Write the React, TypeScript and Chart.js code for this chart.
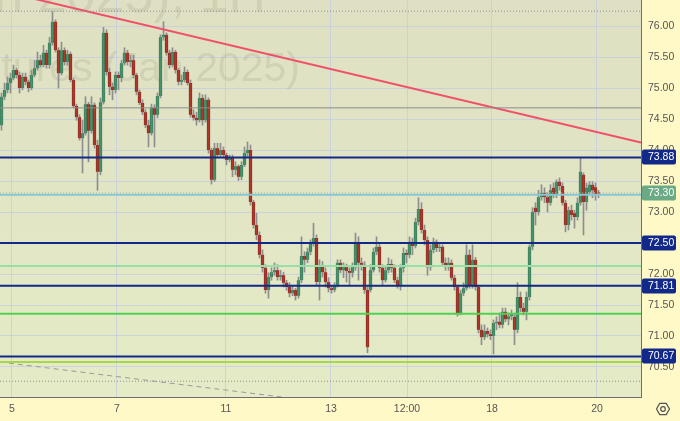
import React, { useEffect, useRef } from "react";
import { Chart, registerables } from "chart.js";

Chart.register(...registerables);

// ---- Candle data (hourly) ----
const opens = [
  74.40, 74.86, 74.97, 75.08, 75.16, 75.29, 75.21, 75.00, 75.18, 75.10,
  75.00, 75.21, 75.32, 75.45, 75.37, 75.57, 75.37, 75.73, 76.07, 75.61,
  75.24, 75.61, 75.42, 75.55, 75.13, 74.71, 74.53, 74.19, 74.27, 74.74,
  74.31, 74.73, 74.08, 73.65, 74.77, 75.89, 75.26, 75.02, 74.97, 75.21,
  75.16, 75.40, 75.57, 75.42, 75.45, 75.21, 74.94, 74.76, 74.61, 74.40,
  74.27, 74.68, 74.57, 74.87, 75.82, 75.86, 75.57, 75.37, 75.58, 75.29,
  75.10, 75.13, 75.26, 75.08, 74.57, 74.52, 74.48, 74.84, 74.48, 74.81,
  74.00, 73.52, 74.03, 73.92, 74.00, 73.92, 73.84, 73.87, 73.68, 73.74,
  73.57, 73.76, 73.95, 74.00, 73.16, 72.79, 72.63, 72.31, 72.10, 71.74,
  71.95, 72.03, 72.06, 71.95, 71.98, 71.86, 71.79, 71.69, 71.74, 71.65,
  71.90, 72.29, 72.23, 72.36, 72.49, 72.58, 71.87, 72.13, 72.03, 71.87,
  71.77, 71.74, 71.82, 72.18, 72.06, 72.11, 72.05, 72.02, 72.11, 72.50,
  72.18, 72.15, 71.74, 71.74, 72.06, 72.36, 72.44, 72.10, 71.90, 72.06,
  72.16, 72.10, 71.90, 71.82, 72.10, 72.34, 72.31, 72.52, 72.45, 72.84,
  73.05, 72.71, 72.55, 72.11, 72.39, 72.52, 72.42, 72.44, 72.18, 72.13,
  72.18, 71.94, 71.79, 71.37, 71.69, 71.77, 72.31, 71.82, 72.23, 71.79,
  71.10, 70.98, 71.08, 71.03, 71.00, 71.21, 71.23, 71.18, 71.39, 71.27,
  71.32, 71.31, 71.10, 71.63, 71.45, 71.39, 71.63, 72.44, 73.07, 73.00,
  73.24, 73.31, 73.24, 73.15, 73.39, 73.27, 73.49, 73.42, 73.15, 72.79,
  73.03, 72.98, 72.92, 73.15, 73.60, 73.16, 73.32, 73.44, 73.40, 73.31,
];
const highs = [
  74.92, 75.08, 75.18, 75.24, 75.37, 75.32, 75.26, 75.24, 75.24, 75.13,
  75.29, 75.45, 75.58, 75.53, 75.69, 75.61, 75.82, 76.23, 76.10, 75.65,
  75.74, 75.65, 75.61, 75.58, 75.16, 74.74, 74.57, 74.48, 74.86, 74.77,
  74.86, 74.76, 74.16, 74.84, 75.98, 75.94, 75.32, 75.08, 75.26, 75.26,
  75.45, 75.65, 75.61, 75.53, 75.53, 75.24, 74.97, 74.81, 74.65, 74.48,
  74.74, 74.73, 74.92, 75.86, 76.07, 75.89, 75.61, 75.65, 75.61, 75.32,
  75.21, 75.34, 75.29, 75.13, 74.65, 74.61, 74.92, 74.89, 74.89, 74.84,
  74.03, 74.11, 74.11, 74.11, 74.05, 73.95, 73.92, 73.92, 73.81, 73.76,
  73.81, 74.05, 74.13, 74.08, 73.19, 72.98, 72.68, 72.39, 72.15, 72.02,
  72.10, 72.18, 72.15, 72.06, 72.03, 71.90, 71.86, 71.82, 71.77, 71.95,
  72.60, 72.36, 72.42, 72.55, 72.82, 72.63, 72.23, 72.20, 72.10, 71.94,
  71.82, 71.86, 72.23, 72.23, 72.18, 72.16, 72.10, 72.18, 72.66, 72.60,
  72.26, 72.20, 71.79, 72.15, 72.42, 72.60, 72.50, 72.15, 72.11, 72.26,
  72.23, 72.15, 71.95, 72.15, 72.42, 72.39, 72.60, 72.58, 72.90, 73.23,
  73.15, 72.79, 72.60, 72.47, 72.58, 72.55, 72.50, 72.47, 72.26, 72.26,
  72.23, 71.98, 71.82, 71.74, 71.86, 72.47, 72.39, 72.47, 72.27, 71.82,
  71.18, 71.18, 71.13, 71.10, 71.26, 71.31, 71.37, 71.45, 71.45, 71.37,
  71.42, 71.37, 71.86, 71.71, 71.53, 71.71, 72.47, 73.07, 73.15, 73.35,
  73.44, 73.39, 73.31, 73.44, 73.47, 73.52, 73.55, 73.47, 73.19, 73.08,
  73.11, 73.03, 73.23, 73.87, 73.63, 73.47, 73.49, 73.49, 73.47, 73.35,
];
const lows = [
  74.32, 74.81, 74.92, 74.92, 75.13, 75.16, 74.92, 74.97, 75.05, 74.94,
  74.97, 75.18, 75.29, 75.34, 75.34, 75.32, 75.32, 75.69, 75.58, 75.00,
  75.21, 75.37, 75.37, 75.10, 74.68, 74.48, 74.16, 73.63, 74.24, 73.81,
  74.27, 74.03, 73.35, 73.60, 74.74, 75.21, 74.89, 74.81, 74.92, 74.97,
  75.10, 75.37, 75.37, 75.34, 75.16, 74.89, 74.73, 74.57, 74.36, 74.05,
  74.24, 74.05, 74.52, 74.84, 75.77, 75.53, 75.32, 75.34, 75.24, 75.05,
  75.05, 75.10, 75.05, 74.53, 74.48, 74.40, 74.45, 74.40, 74.45, 73.95,
  73.45, 73.49, 73.87, 73.89, 73.87, 73.76, 73.81, 73.57, 73.60, 73.51,
  73.52, 73.73, 73.89, 73.11, 72.74, 72.55, 72.26, 72.03, 71.69, 71.61,
  71.90, 71.98, 71.90, 71.90, 71.79, 71.74, 71.63, 71.65, 71.58, 71.61,
  71.86, 72.03, 72.18, 72.31, 72.45, 71.82, 71.58, 71.95, 71.79, 71.71,
  71.69, 71.71, 71.79, 72.02, 71.94, 71.87, 71.82, 71.95, 72.06, 71.90,
  72.06, 71.69, 70.73, 71.71, 72.03, 72.31, 72.03, 71.82, 71.87, 72.02,
  72.03, 71.86, 71.77, 71.74, 72.03, 72.18, 72.26, 72.31, 72.42, 72.79,
  72.66, 72.47, 71.98, 72.06, 72.34, 72.36, 72.36, 72.13, 72.06, 72.06,
  71.90, 71.74, 71.32, 71.34, 71.65, 71.74, 71.77, 71.77, 71.74, 71.05,
  70.86, 70.94, 70.98, 70.94, 70.71, 71.10, 71.13, 71.13, 71.23, 71.18,
  71.26, 70.86, 71.05, 71.39, 71.34, 71.26, 71.58, 72.39, 72.79, 72.95,
  73.19, 73.15, 73.00, 73.11, 73.23, 73.23, 73.35, 73.11, 72.68, 72.71,
  72.87, 72.74, 72.87, 73.11, 72.63, 73.03, 73.27, 73.23, 73.19, 73.23,
];
const closes = [
  74.86, 74.97, 75.08, 75.16, 75.29, 75.21, 75.00, 75.18, 75.10, 75.00,
  75.21, 75.32, 75.45, 75.37, 75.57, 75.37, 75.73, 76.07, 75.61, 75.24,
  75.61, 75.42, 75.55, 75.13, 74.71, 74.53, 74.19, 74.27, 74.74, 74.31,
  74.73, 74.08, 73.65, 74.77, 75.89, 75.26, 75.02, 74.97, 75.21, 75.16,
  75.40, 75.57, 75.42, 75.45, 75.21, 74.94, 74.76, 74.61, 74.40, 74.27,
  74.68, 74.57, 74.87, 75.82, 75.86, 75.57, 75.37, 75.58, 75.29, 75.10,
  75.13, 75.26, 75.08, 74.57, 74.52, 74.48, 74.84, 74.48, 74.81, 74.00,
  73.52, 74.03, 73.92, 74.00, 73.92, 73.84, 73.87, 73.68, 73.74, 73.57,
  73.76, 73.95, 74.00, 73.16, 72.79, 72.63, 72.31, 72.10, 71.74, 71.95,
  72.03, 72.06, 71.95, 71.98, 71.86, 71.79, 71.69, 71.74, 71.65, 71.90,
  72.29, 72.23, 72.36, 72.49, 72.58, 71.87, 72.13, 72.03, 71.87, 71.77,
  71.74, 71.82, 72.18, 72.06, 72.11, 72.05, 72.02, 72.11, 72.50, 72.18,
  72.15, 71.74, 70.82, 72.06, 72.36, 72.44, 72.10, 71.90, 72.06, 72.16,
  72.10, 71.90, 71.82, 72.10, 72.34, 72.31, 72.52, 72.45, 72.84, 73.05,
  72.71, 72.55, 72.11, 72.39, 72.52, 72.42, 72.44, 72.18, 72.13, 72.18,
  71.94, 71.79, 71.37, 71.69, 71.77, 72.31, 71.82, 72.23, 71.79, 71.10,
  70.98, 71.08, 71.03, 71.00, 71.21, 71.23, 71.18, 71.39, 71.27, 71.32,
  71.36, 71.10, 71.63, 71.45, 71.39, 71.63, 72.44, 73.00, 73.00, 73.24,
  73.31, 73.24, 73.15, 73.35, 73.27, 73.49, 73.42, 73.15, 72.79, 73.03,
  72.95, 72.92, 73.15, 73.65, 73.16, 73.39, 73.44, 73.35, 73.27, 73.30,
];

// ---- Axes ----
const yTickValues = [70.5, 71.0, 71.5, 72.0, 72.5, 73.0, 73.5, 74.0, 74.5, 75.0, 75.5, 76.0];
const xTickPositions = [3.5, 38.5, 74.83, 109.83, 135.17, 163.5, 198.5];
const xTickLabels = ["5", "7", "11", "13", "12:00", "18", "20"];
const yMin = 70.016;
const yMax = 76.42;
const xMin = -0.5;
const xMax = 213.1667;

// ---- Levels / drawings ----
const navyLevels = [73.88, 72.5, 71.81, 70.67];
const lastPrice = 73.3;
const lastPriceLine = 73.31;
const cyanLevel = 73.28;
const greenLevel = 71.36;
const paleGreenLevel = 72.13;
const limeLevel = 70.58;
const grayLevel = 74.68;
const dottedLevels = [76.24, 70.27];
const redTrendX = [-0.5, 213.1667];
const redTrendY = [76.57, 74.12];
const grayTrendX = [-0.5, 106];
const grayTrendY = [70.58, 69.94];

const watermarkTop = "(Jan 2025), 1H";
const watermarkBottom = "Futures (Jan 2025)";

const FONT = "'Liberation Sans', Arial, sans-serif";

function hLine(v: number, color: string, width: number, dash: number[] = []) {
  return {
    type: "line" as const,
    data: [
      { x: xMin, y: v },
      { x: xMax, y: v },
    ],
    borderColor: color,
    borderWidth: width,
    borderDash: dash,
    pointRadius: 0,
    order: 0,
    parsing: false as const,
  };
}

export default function App() {
  const ref = useRef<HTMLCanvasElement | null>(null);

  useEffect(() => {
    const canvas = ref.current;
    if (!canvas) return;

    const idx = closes.map((_, i) => i);
    const up = idx.map((i) => closes[i] >= opens[i]);
    const bodies = idx.map((i) => ({
      x: i,
      y: [Math.min(opens[i], closes[i]), Math.max(opens[i], closes[i])],
    }));
    const wicks = idx.map((i) => ({
      x: i,
      y: [Math.min(lows[i], opens[i], closes[i]), Math.max(highs[i], opens[i], closes[i])],
    }));

    const bgPlugin = {
      id: "bg",
      beforeDraw(chart: any) {
        const { ctx, chartArea, width, height } = chart;
        ctx.save();
        ctx.fillStyle = "#fff9c8";
        ctx.fillRect(0, 0, width, height);
        const g = ctx.createLinearGradient(0, chartArea.top, 0, chartArea.bottom);
        g.addColorStop(0, "#dfe0c3");
        g.addColorStop(1, "#e5ebc6");
        ctx.fillStyle = g;
        ctx.fillRect(chartArea.left, chartArea.top, chartArea.right - chartArea.left, chartArea.bottom - chartArea.top);
        ctx.restore();
      },
      beforeDatasetsDraw(chart: any) {
        const { ctx, chartArea } = chart;
        ctx.save();
        ctx.beginPath();
        ctx.rect(chartArea.left, chartArea.top, chartArea.right - chartArea.left, chartArea.bottom - chartArea.top);
        ctx.clip();
        ctx.fillStyle = "rgba(110,110,95,0.14)";
        ctx.textAlign = "right";
        ctx.textBaseline = "alphabetic";
        ctx.font = `52px ${FONT}`;
        ctx.fillText(watermarkTop, 266, 12);
        ctx.font = `41px ${FONT}`;
        ctx.fillText(watermarkBottom, 300, 81);
        ctx.restore();
      },
    };

    const labelPlugin = {
      id: "labels",
      afterDraw(chart: any) {
        const { ctx, scales } = chart;
        const y = scales.y;
        const drawBox = (v: number, bg: string) => {
          const py = Math.round(y.getPixelForValue(v));
          const x0 = 642;
          const w = 34;
          const h = 15;
          ctx.save();
          ctx.fillStyle = bg;
          ctx.beginPath();
          (ctx as any).roundRect(x0, py - h / 2, w, h, 2);
          ctx.fill();
          ctx.fillStyle = "#ffffff";
          ctx.font = `10.5px ${FONT}`;
          ctx.textAlign = "left";
          ctx.textBaseline = "middle";
          ctx.fillText(v.toFixed(2), x0 + 6, py + 0.5);
          ctx.restore();
        };
        navyLevels.forEach((v) => drawBox(v, "#12298a"));
        drawBox(lastPrice, "#6aaa84");

        // settings icon
        const cx = 663;
        const cy = 409;
        const r = 6.5;
        ctx.save();
        ctx.strokeStyle = "#555";
        ctx.lineWidth = 1.2;
        ctx.beginPath();
        for (let k = 0; k < 6; k++) {
          const a = (Math.PI / 3) * k;
          const px = cx + r * Math.cos(a);
          const py = cy + r * Math.sin(a);
          if (k === 0) ctx.moveTo(px, py);
          else ctx.lineTo(px, py);
        }
        ctx.closePath();
        ctx.stroke();
        ctx.beginPath();
        ctx.arc(cx, cy, 2.3, 0, Math.PI * 2);
        ctx.stroke();
        ctx.restore();
      },
    };

    const gridColor = "rgba(196,205,224,0.8)";
    const tickFont = { family: FONT, size: 10.5 };

    const chart = new Chart(canvas, {
      type: "bar",
      data: {
        datasets: [
          hLine(dottedLevels[0], "#8f8f8f", 1, [1, 2]),
          hLine(dottedLevels[1], "#8f8f8f", 1, [1, 2]),
          hLine(grayLevel, "#8c8c8c", 1),
          hLine(paleGreenLevel, "#94e0a6", 2),
          hLine(greenLevel, "#4fd24f", 2),
          hLine(limeLevel, "#a8d84a", 2),
          hLine(cyanLevel, "#86c6d6", 2),
          hLine(lastPriceLine, "#b9b58a", 1, [1, 2]),
          ...navyLevels.map((v) => hLine(v, "#12298a", 2)),
          {
            type: "line" as const,
            data: [
              { x: redTrendX[0], y: redTrendY[0] },
              { x: redTrendX[1], y: redTrendY[1] },
            ],
            borderColor: "#f0506a",
            borderWidth: 2,
            pointRadius: 0,
            order: 0,
            parsing: false as const,
          },
          {
            type: "line" as const,
            data: [
              { x: grayTrendX[0], y: grayTrendY[0] },
              { x: grayTrendX[1], y: grayTrendY[1] },
            ],
            borderColor: "#9a9a9a",
            borderWidth: 1,
            borderDash: [5, 4],
            pointRadius: 0,
            order: 0,
            parsing: false as const,
          },
          {
            type: "bar" as const,
            data: wicks as any,
            backgroundColor: "#8e8e8e",
            barThickness: 1,
            grouped: false,
            order: 3,
            borderWidth: 0,
          },
          {
            type: "bar" as const,
            data: bodies as any,
            backgroundColor: idx.map((i) => (up[i] ? "#45936a" : "#b0362a")),
            borderColor: idx.map((i) => (up[i] ? "#2a5f40" : "#5e1b14")),
            borderWidth: { left: 0.6, right: 0.6, top: 0, bottom: 0 },
            borderSkipped: false,
            barThickness: 3,
            minBarLength: 1,
            grouped: false,
            order: 2,
          },
        ] as any,
      },
      options: {
        animation: false,
        responsive: false,
        devicePixelRatio: 1,
        layout: { padding: 0 },
        plugins: { legend: { display: false }, tooltip: { enabled: false } },
        scales: {
          x: {
            type: "linear",
            min: xMin,
            max: xMax,
            offset: false,
            grid: { color: gridColor, drawTicks: false, offset: false },
            border: { color: "#6e6e6e", width: 1 },
            ticks: {
              padding: 6,
              font: tickFont,
              color: "#555555",
              autoSkip: false,
              maxRotation: 0,
              callback: (_v: any, i: number) => xTickLabels[i],
            },
            afterBuildTicks: (s: any) => {
              s.ticks = xTickPositions.map((v) => ({ value: v }));
            },
            afterFit: (s: any) => {
              s.height = 24;
              s.paddingLeft = 0;
              s.paddingRight = 0;
              s.paddingTop = 0;
              s.paddingBottom = 0;
            },
          },
          y: {
            position: "right",
            min: yMin,
            max: yMax,
            grid: { color: gridColor, drawTicks: false },
            border: { color: "#6e6e6e", width: 1 },
            ticks: {
              padding: 7,
              font: tickFont,
              color: "#555555",
              callback: (v: any) => Number(v).toFixed(2),
            },
            afterBuildTicks: (s: any) => {
              s.ticks = yTickValues.map((v) => ({ value: v }));
            },
            afterFit: (s: any) => {
              s.width = 39;
              s.paddingTop = 0;
              s.paddingBottom = 0;
              s.paddingLeft = 0;
              s.paddingRight = 0;
            },
          },
        },
      } as any,
      plugins: [bgPlugin, labelPlugin],
    });

    return () => chart.destroy();
  }, []);

  return (
    <div style={{ position: "fixed", left: 0, top: 0, width: 680, height: 421 }}>
      <canvas ref={ref} width={680} height={421} style={{ display: "block", width: 680, height: 421 }} />
    </div>
  );
}
